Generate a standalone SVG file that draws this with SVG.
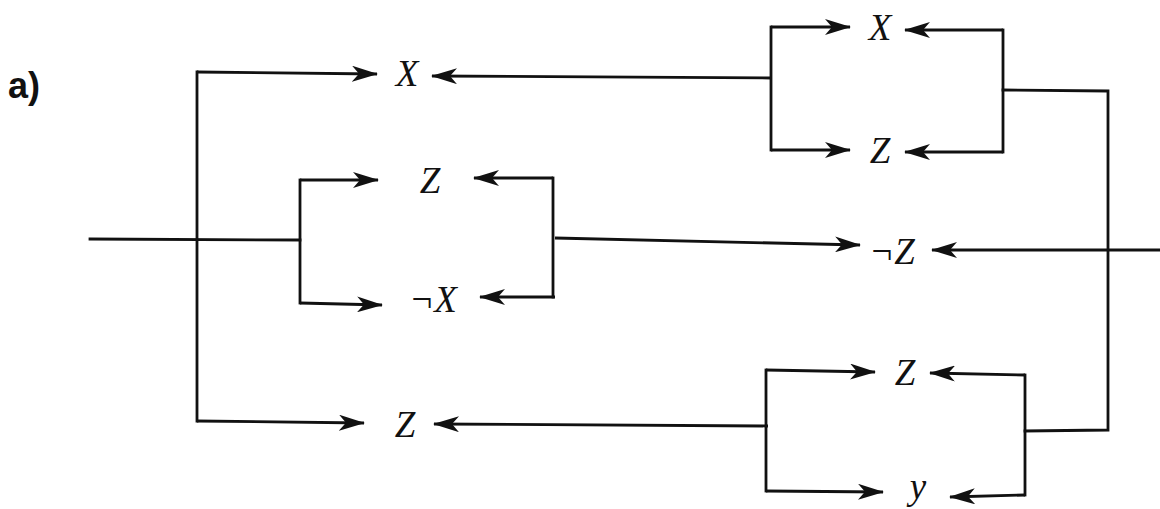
<svg xmlns="http://www.w3.org/2000/svg" width="1160" height="509" viewBox="0 0 1160 509">
  <style>
    .w { fill: none; stroke: #111; stroke-width: 2.8; stroke-linecap: square; }
    .a { fill: none; stroke: #111; stroke-width: 2.8; marker-end: url(#head); }
    .v { font-family: "Liberation Serif", "DejaVu Serif", serif; font-style: italic; font-size: 37px; fill: #111; text-anchor: middle; }
    .tag { font-family: "Liberation Sans", Arial, sans-serif; font-weight: bold; font-size: 36px; fill: #111; }
  </style>
  <defs>
    <marker id="head" viewBox="0 0 26 16" refX="25" refY="8" markerWidth="26" markerHeight="16" markerUnits="userSpaceOnUse" orient="auto">
      <path d="M0,0 L26,8 L0,16 L7,8 Z" fill="#111"/>
    </marker>
  </defs>

  <text class="tag" x="8" y="98">a)</text>

  <g id="connectors">
    <!-- input feed and left trunk -->
    <path class="w" d="M90,239 L300,240"/>
    <path class="w" d="M197,72 L197,421"/>
    <path class="a" d="M197,72 L377,74"/>
    <path class="a" d="M197,421 L364,423"/>

    <!-- middle-left parallel pair -->
    <path class="w" d="M300,180 L300,303"/>
    <path class="a" d="M300,180 L378,180"/>
    <path class="a" d="M300,303 L382,305"/>
    <path class="w" d="M553,178 L553,297"/>
    <path class="a" d="M553,178 L474,178"/>
    <path class="a" d="M555,297 L480,297"/>

    <!-- middle row into ¬Z -->
    <path class="a" d="M555,238 L860,245"/>
    <path class="a" d="M1160,250 L932,250"/>

    <!-- top-right parallel pair -->
    <path class="a" d="M771,78 L432,76"/>
    <path class="w" d="M771,27 L771,150"/>
    <path class="a" d="M771,27 L850,27"/>
    <path class="a" d="M771,150 L850,150"/>
    <path class="w" d="M1003,30 L1003,152"/>
    <path class="a" d="M1003,30 L905,30"/>
    <path class="a" d="M1003,152 L905,152"/>

    <!-- right return loop -->
    <path class="w" d="M1003,90 L1108,91 L1108,430 L1025,431"/>

    <!-- bottom-right parallel pair -->
    <path class="a" d="M768,426 L434,424"/>
    <path class="w" d="M766,370 L766,491"/>
    <path class="a" d="M766,370 L875,372"/>
    <path class="a" d="M766,491 L883,492"/>
    <path class="w" d="M1025,375 L1025,495"/>
    <path class="a" d="M1025,375 L930,373"/>
    <path class="a" d="M1025,495 L950,497"/>
  </g>

  <g id="n-top-x"><text class="v" x="407" y="86">X</text></g>
  <g id="n-tr-x"><text class="v" x="880" y="40">X</text></g>
  <g id="n-tr-z"><text class="v" x="880" y="163">Z</text></g>
  <g id="n-ml-z"><text class="v" x="430" y="193">Z</text></g>
  <g id="n-ml-nx"><text class="v" x="433" y="312">¬X</text></g>
  <g id="n-m-nz"><text class="v" x="892" y="264">¬Z</text></g>
  <g id="n-bl-z"><text class="v" x="405" y="437">Z</text></g>
  <g id="n-br-z"><text class="v" x="905" y="385">Z</text></g>
  <g id="n-br-y"><text class="v" x="918" y="499">y</text></g>
</svg>
